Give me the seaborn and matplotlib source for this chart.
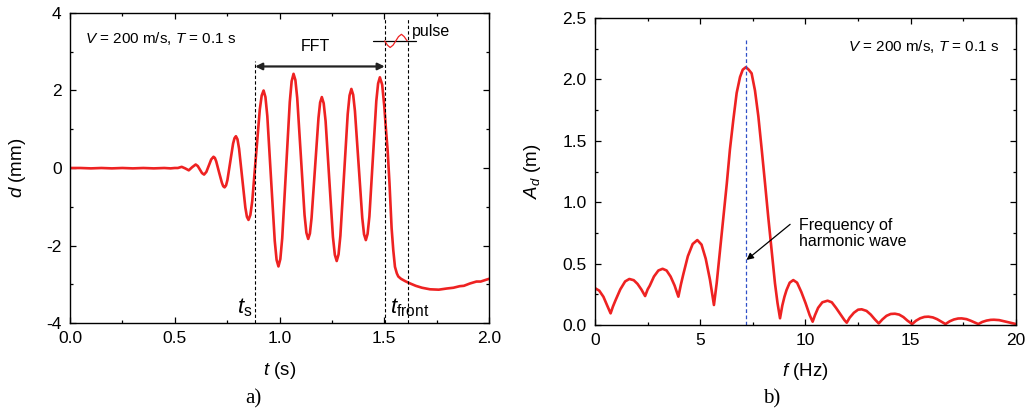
import numpy as np
import pandas as pd
import matplotlib
matplotlib.use("Agg")
import matplotlib.pyplot as plt
import seaborn as sns
from matplotlib.ticker import MultipleLocator, FormatStrFormatter

# ---------------- data: panel a) displacement time history ----------------
t_vals = [0.00, 0.05, 0.10, 0.15, 0.20, 0.25, 0.30, 0.35, 0.40, 0.45, 0.48, 0.50,
          0.515, 0.533, 0.55, 0.567, 0.583, 0.600, 0.61, 0.62, 0.63, 0.640, 0.651,
          0.6625, 0.674, 0.685, 0.6916, 0.698, 0.7115, 0.725, 0.7314, 0.738, 0.7448,
          0.7515, 0.765, 0.7785, 0.7853, 0.792, 0.7995, 0.807, 0.822, 0.837, 0.8445,
          0.852, 0.861, 0.870, 0.888, 0.906, 0.915, 0.924, 0.9329, 0.9418, 0.9595,
          0.9773, 0.9861, 0.995, 1.004, 1.013, 1.031, 1.049, 1.058, 1.067, 1.0758,
          1.0845, 1.102, 1.1195, 1.1283, 1.137, 1.1451, 1.153, 1.1695, 1.186, 1.1939,
          1.202, 1.2109, 1.220, 1.2375, 1.255, 1.2641, 1.273, 1.2818, 1.2905, 1.308,
          1.3255, 1.3343, 1.343, 1.3516, 1.360, 1.3775, 1.395, 1.4034, 1.412, 1.4204,
          1.429, 1.4455, 1.462, 1.4706, 1.479, 1.490, 1.500, 1.508, 1.516, 1.525,
          1.535, 1.543, 1.551, 1.560, 1.567, 1.580, 1.600, 1.615, 1.650, 1.680, 1.718,
          1.760, 1.798, 1.830, 1.860, 1.880, 1.909, 1.940, 1.960, 2.000]
d_vals = [0.00, 0.00, -0.01, 0.00, -0.01, 0.00, -0.01, 0.00, -0.01, 0.00, -0.01, 0.00,
          0.00, 0.03, -0.01, -0.06, 0.02, 0.09, 0.05, -0.04, -0.13, -0.17, -0.10,
          0.06, 0.22, 0.29, 0.26, 0.17, -0.11, -0.38, -0.47, -0.50, -0.45,
          -0.31, 0.16, 0.63, 0.77, 0.82, 0.74, 0.50, -0.26, -1.02, -1.26,
          -1.34, -1.21, -0.85, 0.33, 1.51, 1.87, 2.00, 1.83, 1.34, -0.27,
          -1.88, -2.37, -2.54, -2.35, -1.81, -0.06, 1.70, 2.24, 2.43, 2.27,
          1.81, 0.30, -1.21, -1.67, -1.83, -1.69, -1.29, 0.00, 1.29, 1.69,
          1.83, 1.67, 1.21, -0.29, -1.78, -2.24, -2.40, -2.23, -1.75, -0.18,
          1.39, 1.87, 2.04, 1.89, 1.47, 0.09, -1.29, -1.71, -1.86, -1.70,
          -1.25, 0.24, 1.73, 2.18, 2.34, 2.15, 1.60, 1.00, 0.46, -0.40,
          -1.55, -2.12, -2.55, -2.72, -2.80, -2.86, -2.92, -2.96, -3.04, -3.09, -3.13,
          -3.14, -3.11, -3.09, -3.05, -3.04, -2.98, -2.93, -2.93, -2.86]

# markers of panel a)
t_start = 0.884
t_front = 1.502
t_pulse_end = 1.615
fft_y = 2.62
pulse_t = [1.502, 1.515, 1.528, 1.542, 1.555, 1.568, 1.582, 1.595, 1.609]
pulse_d = [3.28, 3.17, 3.11, 3.17, 3.28, 3.39, 3.45, 3.39, 3.28]

# ---------------- data: panel b) FFT amplitude spectrum ----------------
f_vals = [0.00, 0.20, 0.40, 0.60, 0.74, 0.85, 0.97, 1.20, 1.43, 1.63, 1.84, 2.02, 2.20,
          2.38, 2.50, 2.60, 2.80, 3.01, 3.21, 3.40, 3.59, 3.78, 3.96, 4.08, 4.19, 4.41,
          4.64, 4.86, 5.06, 5.26, 5.46, 5.58, 5.65, 5.78, 5.94, 6.10, 6.26, 6.41, 6.57,
          6.73, 6.89, 7.02, 7.17, 7.30, 7.44, 7.60, 7.76, 7.92, 8.08, 8.23, 8.39, 8.55,
          8.67, 8.79, 8.90, 9.00, 9.10, 9.25, 9.42, 9.60, 9.80, 10.00, 10.20, 10.34,
          10.45, 10.60, 10.80, 11.05, 11.25, 11.45, 11.65, 11.85, 11.96, 12.10, 12.30,
          12.50, 12.67, 12.90, 13.10, 13.30, 13.48, 13.65, 13.85, 14.05, 14.25, 14.45,
          14.65, 14.85, 15.07, 15.25, 15.45, 15.65, 15.84, 16.05, 16.25, 16.45, 16.65,
          16.85, 17.05, 17.25, 17.42, 17.65, 17.85, 18.05, 18.21, 18.40, 18.60, 18.80,
          18.95, 19.20, 19.45, 19.70, 20.00]
a_vals = [0.30, 0.28, 0.23, 0.15, 0.095, 0.15, 0.20, 0.29, 0.355, 0.375, 0.365, 0.335, 0.29,
          0.236, 0.29, 0.32, 0.395, 0.444, 0.458, 0.444, 0.395, 0.322, 0.231, 0.33, 0.41, 0.56,
          0.66, 0.692, 0.655, 0.54, 0.37, 0.24, 0.163, 0.34, 0.61, 0.88, 1.15, 1.43, 1.67,
          1.89, 2.02, 2.08, 2.10, 2.08, 2.05, 1.91, 1.70, 1.43, 1.15, 0.88, 0.61, 0.34,
          0.18, 0.055, 0.16, 0.23, 0.285, 0.345, 0.366, 0.345, 0.27, 0.18, 0.08, 0.027,
          0.08, 0.14, 0.185, 0.198, 0.185, 0.14, 0.09, 0.04, 0.019, 0.06, 0.10,
          0.125, 0.128, 0.115, 0.085, 0.045, 0.013, 0.045, 0.075, 0.09, 0.092, 0.085,
          0.065, 0.035, 0.008, 0.035, 0.055, 0.066, 0.068, 0.062, 0.048, 0.028, 0.008,
          0.03, 0.045, 0.053, 0.054, 0.048, 0.035, 0.02, 0.008, 0.025, 0.036, 0.042,
          0.043, 0.04, 0.03, 0.02, 0.008]
f_harm = 7.17

# ---------------- style ----------------
sns.set_theme(style="ticks")
plt.rcParams.update({
    "font.family": ["Liberation Sans", "DejaVu Sans"],
    "mathtext.fontset": "custom",
    "mathtext.rm": "Liberation Sans",
    "mathtext.it": "Liberation Sans:italic",
    "mathtext.bf": "Liberation Sans:bold",
    "axes.edgecolor": "black",
    "axes.linewidth": 1.0,
    "xtick.color": "black",
    "ytick.color": "black",
    "axes.labelcolor": "black",
    "text.color": "black",
})

RED = "#ee2222"
fig = plt.figure(figsize=(10.35, 4.11), dpi=100)
ax1 = fig.add_axes([0.0676, 0.2141, 0.4049, 0.7543])
ax2 = fig.add_axes([0.5749, 0.2092, 0.4067, 0.7468])

def style_axes(ax):
    ax.tick_params(which="both", direction="in", top=True, right=True,
                   labelsize=12.5, colors="black", width=0.9)
    ax.tick_params(which="major", length=4.5, pad=6)
    ax.tick_params(which="minor", length=2.5)
    for s in ax.spines.values():
        s.set_visible(True)
        s.set_color("black")
        s.set_linewidth(1.0)

# ---------------- panel a ----------------
df_a = pd.DataFrame({"t": t_vals, "d": d_vals})
sns.lineplot(data=df_a, x="t", y="d", ax=ax1, color=RED, linewidth=1.9, sort=False)
ax1.set_xlim(0, 2.0)
ax1.set_ylim(-4, 4)
ax1.xaxis.set_major_locator(MultipleLocator(0.5))
ax1.xaxis.set_minor_locator(MultipleLocator(0.25))
ax1.yaxis.set_major_locator(MultipleLocator(2))
ax1.yaxis.set_minor_locator(MultipleLocator(1))
ax1.xaxis.set_major_formatter(FormatStrFormatter("%.1f"))
ax1.yaxis.set_major_formatter(FormatStrFormatter("%d"))
ax1.set_xlabel("$t$ (s)", fontsize=13.5, labelpad=10)
ax1.set_ylabel("$d$ (mm)", fontsize=13.5, labelpad=13)
style_axes(ax1)

ax1.plot([t_start, t_start], [-4, 2.75], ls=(0, (3, 2)), color="black", lw=0.8)
ax1.plot([t_front, t_front], [-4, 3.85], ls=(0, (3, 2)), color="black", lw=0.8)
ax1.plot([t_pulse_end, t_pulse_end], [-4, 3.85], ls=(0, (3, 2)), color="black", lw=0.8)
ax1.annotate("", xy=(t_start, fft_y), xytext=(t_front, fft_y),
             arrowprops=dict(arrowstyle="<|-|>", color="#222222", lw=1.6,
                             mutation_scale=10, shrinkA=0, shrinkB=0))
ax1.text((t_start + t_front) / 2 - 0.02, 3.14, "FFT", fontsize=11.5, ha="center", va="center")
ax1.plot([1.444, 1.653], [3.28, 3.28], color="black", lw=0.9)
ax1.plot(pulse_t, pulse_d, color=RED, lw=0.9)
ax1.text(1.633, 3.53, "pulse", fontsize=11.5, ha="left", va="center")
ax1.text(0.072, 3.34, "$V$ = 200 m/s, $T$ = 0.1 s", fontsize=11, ha="left", va="center")
ax1.text(0.835, -3.6, r"$t_\mathrm{s}$", fontsize=16, ha="center", va="center")
ax1.text(1.525, -3.6, r"$t_\mathrm{front}$", fontsize=16, ha="left", va="center")

# ---------------- panel b ----------------
df_b = pd.DataFrame({"f": f_vals, "A": a_vals})
sns.lineplot(data=df_b, x="f", y="A", ax=ax2, color=RED, linewidth=1.9, sort=False)
ax2.set_xlim(0, 20)
ax2.set_ylim(0, 2.5)
ax2.xaxis.set_major_locator(MultipleLocator(5))
ax2.xaxis.set_minor_locator(MultipleLocator(2.5))
ax2.yaxis.set_major_locator(MultipleLocator(0.5))
ax2.yaxis.set_minor_locator(MultipleLocator(0.25))
ax2.yaxis.set_major_formatter(FormatStrFormatter("%.1f"))
ax2.set_xlabel("$f$ (Hz)", fontsize=13.5, labelpad=9)
ax2.set_ylabel("$A_d$ (m)", fontsize=13.5, labelpad=14)
style_axes(ax2)

ax2.plot([f_harm, f_harm], [0, 2.32], ls=(0, (3, 2)), color="#3050c8", lw=0.9)
ax2.annotate("", xy=(7.2, 0.53), xytext=(9.27, 0.82),
             arrowprops=dict(arrowstyle="-|>", color="black", lw=0.9,
                             mutation_scale=10, shrinkA=0, shrinkB=0))
ax2.text(9.71, 0.745, "Frequency of\nharmonic wave", fontsize=11.5, ha="left",
         va="center", linespacing=1.1)
ax2.text(19.2, 2.27, "$V$ = 200 m/s, $T$ = 0.1 s", fontsize=11, ha="right", va="center")

fig.text(0.2444, 0.03, "a)", fontsize=15, family="Liberation Serif", ha="center", va="center")
fig.text(0.746, 0.03, "b)", fontsize=15, family="Liberation Serif", ha="center", va="center")

fig.savefig("out.png", dpi=100, facecolor="white")
